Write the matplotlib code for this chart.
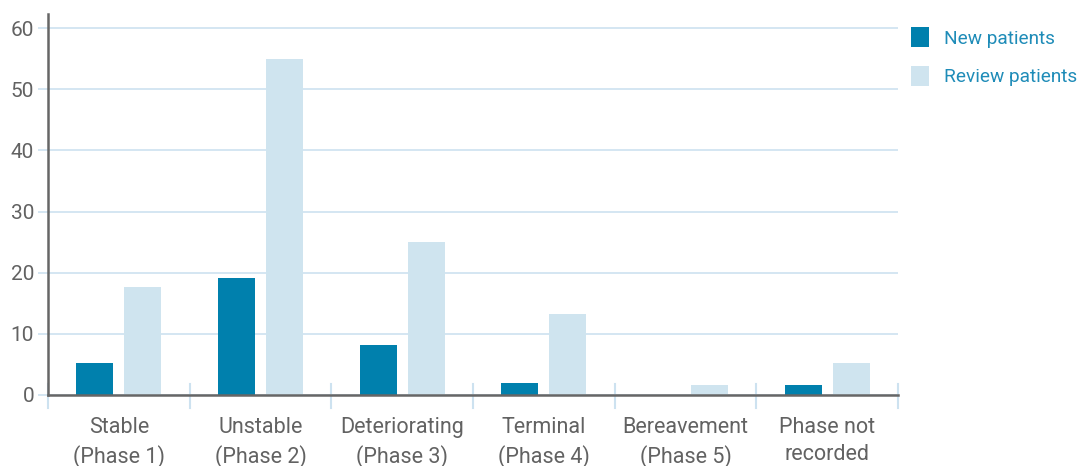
import numpy as np
import matplotlib.pyplot as plt

categories = ['Stable\n(Phase 1)', 'Unstable\n(Phase 2)', 'Deteriorating\n(Phase 3)',
              'Terminal\n(Phase 4)', 'Bereavement\n(Phase 5)', 'Phase not\nrecorded']
new_patients = [5.3, 19.2, 8.1, 1.9, 0, 1.6]
review_patients = [17.7, 55, 25, 13.2, 1.7, 5.2]
y_ticks = [0, 10, 20, 30, 40, 50, 60]

dark_blue = '#0080ad'
light_blue = '#cfe4ef'
grid_blue = '#cde2f0'
text_grey = '#626262'

plt.rcParams['font.family'] = ['Roboto', 'DejaVu Sans']

fig = plt.figure(figsize=(10.87, 4.66), dpi=100)
ax = fig.add_axes([48 / 1087, 71 / 466, 850 / 1087, 381 / 466])

x = np.arange(len(categories))
w = 0.261
off = 0.17
ax.bar(x - off, new_patients, w, color=dark_blue, label='New patients', zorder=3)
ax.bar(x + off, review_patients, w, color=light_blue, label='Review patients', zorder=3)

ax.set_xlim(-0.5, len(categories) - 0.5)
ax.set_ylim(0, 62.3)

# horizontal gridlines with short ticks poking left of the axis
ax.set_yticks(y_ticks)
ax.set_yticklabels([str(t) for t in y_ticks], fontsize=15, color=text_grey)
ax.yaxis.grid(True, color=grid_blue, linewidth=1.2, zorder=0)
ax.tick_params(axis='y', length=7, color=grid_blue, width=1.2, pad=3)

# category labels between separator ticks
ax.set_xticks(x)
ax.set_xticklabels(categories, fontsize=15.5, color=text_grey, linespacing=1.38)
ax.tick_params(axis='x', length=0, pad=16)
for b in np.arange(-0.5, len(categories), 1.0):
    ax.plot([b, b], [-0.035, 0.03], transform=ax.get_xaxis_transform(),
            color=grid_blue, linewidth=1.5, clip_on=False, zorder=1)

for side in ['top', 'right']:
    ax.spines[side].set_visible(False)
ax.spines['left'].set_color('#666666')
ax.spines['left'].set_linewidth(1.8)
ax.spines['bottom'].set_color('#666666')
ax.spines['bottom'].set_linewidth(1.8)
ax.spines['bottom'].set_zorder(4)

leg = ax.legend(loc='upper left', bbox_to_anchor=(1.0, 1.0), frameon=False,
                fontsize=13.7, handlelength=0.95, handleheight=1.25, handletextpad=0.75,
                labelspacing=0.95, borderaxespad=0.3)
for t in leg.get_texts():
    t.set_color('#1f8cb8')

fig.savefig('out.png', dpi=100)
